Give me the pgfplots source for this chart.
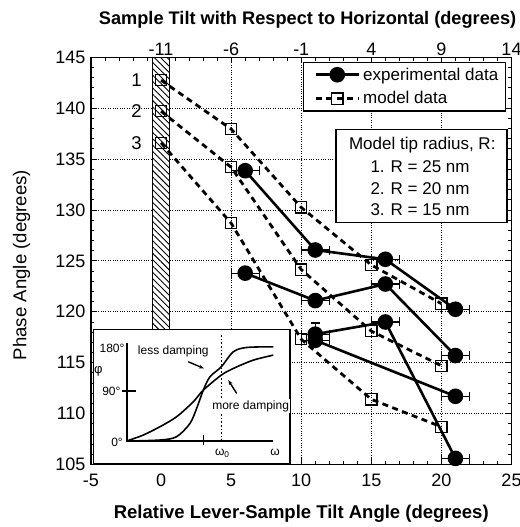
\documentclass[border=0pt]{standalone}
\usepackage{pgfplots}
\pgfplotsset{compat=1.18}
\usepackage{fontspec}
\setmainfont{Liberation Sans}
\usetikzlibrary{patterns.meta,arrows.meta}

\newcommand{\fsz}[1]{\fontsize{#1bp}{#1bp}\selectfont}

\begin{document}
\begin{tikzpicture}
% main axis (bottom/left scales)
\begin{axis}[
    at={(0,0)}, anchor=south west,
    width=420.5bp, height=407.2bp, scale only axis,
    xmin=-5, xmax=25, ymin=105, ymax=145,
    xtick={-5,0,...,25}, ytick={105,110,...,145},
    minor tick num=4,
    tick align=inside,
    major tick length=6bp, minor tick length=3.5bp,
    tick style={line width=0.9bp, black},
    axis line style={line width=1.3bp},
    grid=major,
    major grid style={dotted, line width=1bp, black},
    /pgf/number format/assume math mode=true,
    ticklabel style={font=\fsz{18}},
    xticklabel style={yshift=-6bp},
    yticklabel style={xshift=-2bp},
    xlabel={\bfseries Relative Lever-Sample Tilt Angle (degrees)},
    ylabel={Phase Angle (degrees)},
    label style={font=\fsz{18.6}},
    xlabel style={font=\fsz{18.5}, at={(axis description cs:0.5,-0.12)}, anchor=center},
    ylabel style={at={(axis description cs:-0.165,0.49)}, anchor=center},
    legend style={at={(0.505,0.989)}, anchor=north west, draw=black,
        line width=1.1bp, font=\fsz{17}, inner xsep=4bp, inner ysep=2.5bp,
        row sep=4bp, nodes={inner sep=3bp}},
    legend cell align=left,
    legend image code/.code={
        \path (0bp,0bp);
        \draw[mark repeat=2,mark phase=2,#1]
            plot coordinates {(6.5bp,0bp) (28bp,0bp) (49.5bp,0bp)};},
]
% hatched bar at zero relative tilt
\draw[line width=0.9bp, fill=white] (axis cs:-0.6,105) rectangle (axis cs:0.62,145);
\fill[pattern={Lines[angle=-45,distance=4.5bp,line width=0.9bp]}]
    (axis cs:-0.6,105) rectangle (axis cs:0.62,145);

\addlegendimage{black, solid, line width=2.6bp, mark=*, mark size=6.5bp}
\addlegendentry{experimental data}
\addlegendimage{black, line width=2.8bp, dash pattern=on 6bp off 4.5bp,
    mark=square, mark size=5.6bp, mark options={solid, line width=1.2bp}}
\addlegendentry{model data}

% model data, R = 25, 20, 15 nm
\pgfplotsset{model/.style={forget plot, black, line width=2.8bp,
    dash pattern=on 6bp off 4.5bp, mark=square, mark size=5.6bp,
    mark options={solid, line width=1.2bp, fill=none}}}
\addplot[model] coordinates {(0,142.75) (5,137.95) (10,130.25) (15,124.6) (20,120.8)};
\addplot[model] coordinates {(0,139.7) (5,134.2) (10,124.15) (15,118.1) (20,114.7)};
\addplot[model] coordinates {(0,136.6) (5,128.7) (10,117.3) (15,111.4) (20,108.7)};

% experimental data
\pgfplotsset{expt/.style={forget plot, black, solid, line width=2.6bp,
    mark=*, mark size=6.5bp,
    error bars/.cd, x dir=both, x explicit, y dir=both, y explicit,
    error bar style={line width=1.2bp, solid},
    error mark options={rotate=90, mark size=4.5bp, line width=1.2bp}}}
\addplot[expt] coordinates {(6,133.86) +- (1,0) (11,126.07) +- (1,0)
    (16,125.16) +- (1,0) (21,120.25) +- (1,0)};
\addplot[expt] coordinates {(6,123.8) +- (1,0) (11,121.1) +- (1,0)
    (16,122.73) +- (1,0) (21,115.7) +- (1,0)};
\addplot[expt] coordinates {(11,117.8) +- (1,1.1) (16,119.0) +- (1,0)
    (21,105.6) +- (1,0)};
\addplot[expt] coordinates {(11,117.2) +- (1,0) (21,111.7) +- (1,0)};

\node[font=\fsz{18.5}] at (axis cs:-1.75,142.75) {1};
\node[font=\fsz{18.5}] at (axis cs:-1.75,139.7) {2};
\node[font=\fsz{18.5}] at (axis cs:-1.75,136.6) {3};
\end{axis}

% top scale: sample tilt with respect to horizontal
\begin{axis}[
    at={(0,0)}, anchor=south west,
    width=420.5bp, height=407.2bp, scale only axis,
    xmin=-16, xmax=14, ymin=105, ymax=145,
    axis x line*=top, axis y line=none,
    axis line style={line width=1.3bp},
    xtick={-11,-6,-1,4,9,14},
    major tick length=0bp,
    /pgf/number format/assume math mode=true,
    ticklabel style={font=\fsz{18}},
    xticklabel style={yshift=-2bp},
    xlabel={\bfseries Sample Tilt with Respect to Horizontal (degrees)},
    label style={font=\fsz{18.2}},
    xlabel style={at={(axis description cs:0.515,1.093)}, anchor=center},
]
\end{axis}

% inset: phase vs. frequency sketch
\begin{axis}[
    at={(2.3bp,0.5bp)}, anchor=south west,
    width=196.7bp, height=134.5bp, scale only axis,
    xmin=-1, xmax=4.9, ymin=-41.4, ymax=201,
    xtick=\empty, ytick=\empty,
    axis background/.style={fill=white},
    axis line style={line width=1.1bp},
    clip=false,
]
\addplot[black, line width=1.6bp, smooth] coordinates {
    (0,0) (1,1.8) (1.5,7.8) (1.9,31.8) (2.1,58.8) (2.3,91.8) (2.5,115.8)
    (2.84,133.8) (3.2,160.8) (3.6,168.6) (4.4,169.8)};
\addplot[black, line width=1.6bp, smooth] coordinates {
    (0,0) (0.5,10.8) (1,25.8) (1.5,43.8) (2,70.8) (2.3,91.8) (2.84,118.8)
    (3.2,130.8) (3.8,145.8) (4.4,154.8)};
\draw[line width=2.2bp] (axis cs:0,176) -- (axis cs:0,0) -- (axis cs:4.4,0);
\draw[line width=1.3bp] (axis cs:-0.15,90) -- (axis cs:0.28,90);
\draw[line width=1.3bp] (axis cs:2.3,-7.2) -- (axis cs:2.3,10.8);
\draw[line width=1.6bp, dotted] (axis cs:2.84,0) -- (axis cs:2.84,194);
\node[font=\fsz{12}, anchor=east, inner sep=1bp] at (axis cs:-0.03,166.8) {180°};
\node[font=\fsz{12}, anchor=east, inner sep=1bp] at (axis cs:-0.15,90) {90°};
\node[font=\fsz{12}, anchor=east, inner sep=1bp] at (axis cs:-0.08,-2.4) {0°};
\node[font=\fsz{13}] at (axis cs:-0.85,124.8) {φ};
\node[font=\fsz{12}] at (axis cs:2.87,-22) {ω\textsubscript{0}};
\node[font=\fsz{12}] at (axis cs:4.45,-21) {ω};
\node[font=\fsz{12}] at (axis cs:1.4,160.8) {less damping};
\node[font=\fsz{12}, fill=white, inner sep=1bp] at (axis cs:3.72,63) {more damping};
\draw[-{Stealth[length=5bp]}, line width=1.4bp] (axis cs:1.85,142.8) -- (axis cs:2.32,130.8);
\draw[-{Stealth[length=5bp]}, line width=1.4bp] (axis cs:3.3,85.8) -- (axis cs:3.05,109.8);
\end{axis}

% tip radius key
\draw[line width=1.1bp, fill=white] (245bp,335.2bp) rectangle (416bp,241.8bp);
\node[font=\fsz{17}] at (331.3bp,319.5bp) {Model tip radius, R:};
\node[font=\fsz{17}, anchor=west] at (276bp,297.8bp) {1.\hspace{6bp}R = 25 nm};
\node[font=\fsz{17}, anchor=west] at (276bp,276.2bp) {2.\hspace{6bp}R = 20 nm};
\node[font=\fsz{17}, anchor=west] at (276bp,254.5bp) {3.\hspace{6bp}R = 15 nm};

\pgfresetboundingbox
\useasboundingbox (-91bp,-62.5bp) rectangle (429bp,464.5bp);
\end{tikzpicture}
\end{document}
